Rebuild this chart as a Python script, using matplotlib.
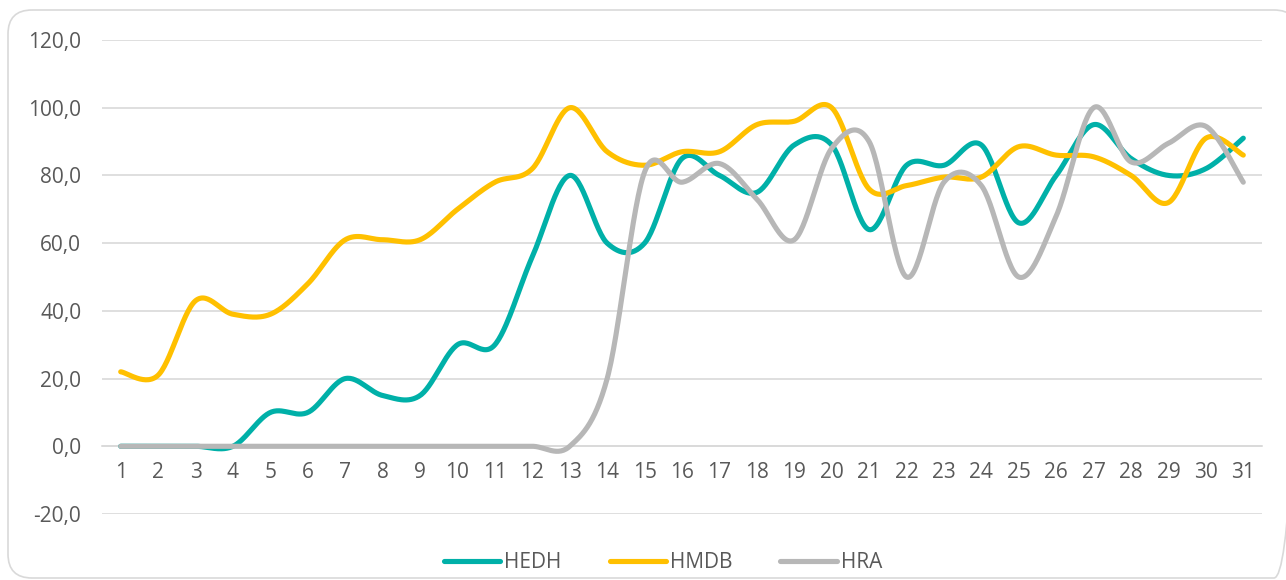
import numpy as np
import matplotlib
matplotlib.use("Agg")
import matplotlib.pyplot as plt
from matplotlib.patches import FancyBboxPatch
from matplotlib.ticker import FuncFormatter

# Data
days = list(range(1, 32))
hedh = [0, 0, 0, 0, 10, 10, 20, 15, 15, 30, 30, 56, 80, 60, 60, 85,
        80, 75, 89, 89, 64, 83, 83, 89, 66, 80, 95, 85, 80, 82, 91]
hmdb = [22, 21, 43, 39, 39, 48, 61, 61, 61, 70, 78, 82, 100, 87, 83, 87,
        87, 95, 96, 100, 76, 77, 79.5, 79.5, 88.5, 86, 85.5, 80, 72, 91, 86]
hra = [0, 0, 0, 0, 0, 0, 0, 0, 0, 0, 0, 0, 0, 20, 81, 78,
       83.5, 73, 61, 88, 90, 50, 78, 77, 50, 68, 100, 84, 89.5, 94.5, 78]

series = [("HEDH", hedh, "#00B0A8"),
          ("HMDB", hmdb, "#FFC000"),
          ("HRA", hra, "#B7B7B7")]

text_color = "#595959"
grid_color = "#D9D9D9"


def smooth(x, y, n=30):
    # Catmull-Rom style smoothing like the spreadsheet "smoothed line" option
    x = np.asarray(x, float)
    y = np.asarray(y, float)
    px = np.concatenate([[x[0]], x, [x[-1]]])
    py = np.concatenate([[y[0]], y, [y[-1]]])
    t = np.linspace(0, 1, n, endpoint=False)[:, None]
    xs, ys = [], []
    for i in range(1, len(px) - 2):
        p0 = np.array([px[i], py[i]])
        p3 = np.array([px[i + 1], py[i + 1]])
        p1 = p0 + (np.array([px[i + 1], py[i + 1]]) - np.array([px[i - 1], py[i - 1]])) / 6
        p2 = p3 - (np.array([px[i + 2], py[i + 2]]) - np.array([px[i], py[i]])) / 6
        pts = ((1 - t) ** 3) * p0 + 3 * ((1 - t) ** 2) * t * p1 + 3 * (1 - t) * t ** 2 * p2 + t ** 3 * p3
        xs.append(pts[:, 0])
        ys.append(pts[:, 1])
    xs.append([x[-1]])
    ys.append([y[-1]])
    return np.concatenate(xs), np.concatenate(ys)


plt.rcParams["font.family"] = ["Open Sans", "DejaVu Sans"]

W, H = 1286, 580
fig = plt.figure(figsize=(W / 100, H / 100), dpi=100)

# rounded chart border in pixel units, cut off at the right edge of the picture
bg = fig.add_axes([0, 0, 1, 1], zorder=-1)
bg.set_xlim(0, W)
bg.set_ylim(H, 0)
bg.axis("off")
bg.add_patch(FancyBboxPatch((8, 10), 1290, 568,
                            boxstyle="round,pad=0,rounding_size=24",
                            facecolor="none", edgecolor="#D9D9D9", linewidth=1.2))

ax = fig.add_axes([102 / W, 1 - 514 / H, 1160 / W, 474 / H])

for name, vals, color in series:
    sx, sy = smooth(days, vals)
    ax.plot(sx, sy, color=color, linewidth=3.7, solid_capstyle="round",
            solid_joinstyle="round", label=name)

ax.set_xlim(0.5, 31.5)
ax.set_ylim(-20, 120)
ax.set_yticks(np.arange(-20, 121, 20))
ax.yaxis.set_major_formatter(FuncFormatter(lambda v, p: f"{v:.1f}".replace(".", ",")))
ax.set_xticks(days)
ax.set_xticklabels([str(d) for d in days])

ax.grid(axis="y", color=grid_color, linewidth=1.2)
ax.set_axisbelow(True)
for side in ["top", "right", "left"]:
    ax.spines[side].set_visible(False)
ax.spines["bottom"].set_position(("data", 0))
ax.spines["bottom"].set_color(grid_color)
ax.spines["bottom"].set_linewidth(1.2)
ax.spines["bottom"].set_zorder(0)

ax.tick_params(axis="y", length=0, pad=15, labelsize=15, labelcolor=text_color)
ax.tick_params(axis="x", length=0, pad=11, labelsize=15, labelcolor=text_color)

leg = fig.legend(loc="center", bbox_to_anchor=(663 / W, 1 - 563 / H), ncol=3,
                 frameon=False, fontsize=15, handlelength=2.7, handletextpad=0.2,
                 columnspacing=2.3)
for t in leg.get_texts():
    t.set_color(text_color)

fig.savefig("out.png", dpi=100)
